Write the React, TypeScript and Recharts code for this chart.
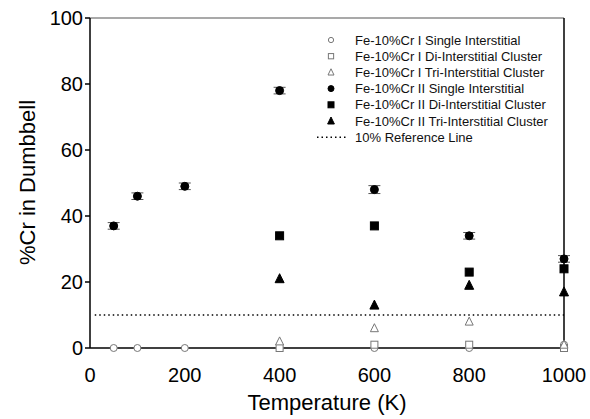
import React from 'react';
import { ScatterChart, Scatter, XAxis, YAxis, ErrorBar, ReferenceLine } from 'recharts';

const temps = [50, 100, 200, 400, 600, 800, 1000];
const clusterTemps = [400, 600, 800, 1000];

const iSingle = [0, 0, 0, 0, 0, 0, 1];
const iDi = [0, 1, 1, 0];
const iTri = [2, 6, 8, 1];
const iiSingle = [37, 46, 49, 78, 48, 34, 27];
const iiSingleErr = [1, 1, 1, 1, 1.2, 1, 1];
const iiDi = [34, 37, 23, 24];
const iiTri = [21, 13, 19, 17];
const refLine = [{ x: 10, y: 10 }, { x: 1000, y: 10 }];

const xTicks = [0, 200, 400, 600, 800, 1000];
const yTicks = [0, 20, 40, 60, 80, 100];

const mk = (xs: number[], ys: number[], errs?: number[]) =>
  xs.map((x, i) => ({ x, y: ys[i], err: errs ? errs[i] : 0 }));

const FONT = 'Liberation Sans, Arial, sans-serif';

type Kind = 'circle' | 'square' | 'triangle';

const drawMarker = (kind: Kind, filled: boolean, cx: number, cy: number, scale = 1) => {
  const fill = filled ? '#000' : '#fff';
  const stroke = filled ? '#000' : '#777';
  const sw = 1;
  if (kind === 'circle') {
    return <circle cx={cx} cy={cy} r={(filled ? 4 : 3.5) * scale} fill={fill} stroke={stroke} strokeWidth={sw} />;
  }
  if (kind === 'square') {
    const s = (filled ? 8 : 7) * scale;
    return <rect x={cx - s / 2} y={cy - s / 2} width={s} height={s} fill={fill} stroke={stroke} strokeWidth={sw} />;
  }
  const h = (filled ? 8 : 7) * scale;
  const w = (filled ? 9 : 8) * scale;
  return (
    <polygon
      points={`${cx},${cy - h / 2 - 1} ${cx - w / 2},${cy + h / 2} ${cx + w / 2},${cy + h / 2}`}
      fill={fill}
      stroke={stroke}
      strokeWidth={sw}
    />
  );
};

const shapeFn = (kind: Kind, filled: boolean) => (props: any) => {
  const { cx, cy } = props;
  if (cx == null || cy == null) return <g />;
  return drawMarker(kind, filled, cx, cy);
};

const legendItems: { label: string; kind: Kind | 'line'; filled: boolean }[] = [
  { label: 'Fe-10%Cr I Single Interstitial', kind: 'circle', filled: false },
  { label: 'Fe-10%Cr I Di-Interstitial Cluster', kind: 'square', filled: false },
  { label: 'Fe-10%Cr I Tri-Interstitial Cluster', kind: 'triangle', filled: false },
  { label: 'Fe-10%Cr II Single Interstitial', kind: 'circle', filled: true },
  { label: 'Fe-10%Cr II Di-Interstitial Cluster', kind: 'square', filled: true },
  { label: 'Fe-10%Cr II Tri-Interstitial Cluster', kind: 'triangle', filled: true },
  { label: '10% Reference Line', kind: 'line', filled: true },
];

const LegendOverlay = () => (
  <svg width={260} height={125} style={{ position: 'absolute', left: 300, top: 32, overflow: 'visible' }}>
    {legendItems.map((it, i) => {
      const y = 8 + i * 16.2;
      return (
        <g key={it.label}>
          {it.kind === 'line' ? (
            <line x1={17} x2={47} y1={y} y2={y} stroke="#000" strokeWidth={1.5} strokeDasharray="1.5 3" />
          ) : (
            drawMarker(it.kind as Kind, it.filled, 31, y, 0.75)
          )}
          <text x={55} y={y + 4.5} fontFamily={FONT} fontSize={13} fill="#111">
            {it.label}
          </text>
        </g>
      );
    })}
  </svg>
);

export default function App() {
  return (
    <div style={{ position: 'absolute', left: 0, top: 0, width: 590, height: 419, background: '#fff' }}>
      <ScatterChart width={590} height={419} margin={{ top: 18, right: 26, left: 0, bottom: 0 }}>
        <XAxis
          type="number"
          dataKey="x"
          domain={[0, 1000]}
          ticks={xTicks}
          tickLine={false}
          axisLine={{ stroke: '#000', strokeWidth: 1.5 }}
          height={71}
          tick={{ fontFamily: FONT, fontSize: 20, fill: '#000' }}
          tickMargin={14}
          label={{ value: 'Temperature (K)', position: 'insideBottom', offset: 9, style: { fontFamily: FONT, fontSize: 22, fill: '#000' } }}
        />
        <YAxis
          type="number"
          dataKey="y"
          domain={[0, 100]}
          ticks={yTicks}
          width={90}
          tickSize={5}
          tickMargin={2}
          tickLine={{ stroke: '#000', strokeWidth: 1.5 }}
          axisLine={{ stroke: '#000', strokeWidth: 1.5 }}
          tick={{ fontFamily: FONT, fontSize: 20, fill: '#000' }}
          label={{ value: '%Cr in Dumbbell', angle: -90, position: 'insideLeft', offset: 27, dy: 82, style: { fontFamily: FONT, fontSize: 22, fill: '#000' } }}
        />
        <ReferenceLine y={100} stroke="#555" strokeWidth={1.2} />
        <ReferenceLine x={1000} stroke="#000" strokeWidth={1.5} />
        <Scatter
          name="10% Reference Line"
          data={refLine}
          line={{ stroke: '#000', strokeWidth: 1.5, strokeDasharray: '1.5 3' }}
          shape={() => <g />}
          isAnimationActive={false}
        />
        <Scatter name="Fe-10%Cr I Single Interstitial" data={mk(temps, iSingle)} shape={shapeFn('circle', false)} isAnimationActive={false} />
        <Scatter name="Fe-10%Cr I Di-Interstitial Cluster" data={mk(clusterTemps, iDi)} shape={shapeFn('square', false)} isAnimationActive={false} />
        <Scatter name="Fe-10%Cr I Tri-Interstitial Cluster" data={mk(clusterTemps, iTri)} shape={shapeFn('triangle', false)} isAnimationActive={false} />
        <Scatter name="Fe-10%Cr II Single Interstitial" data={mk(temps, iiSingle, iiSingleErr)} shape={shapeFn('circle', true)} isAnimationActive={false}>
          <ErrorBar dataKey="err" direction="y" width={6} stroke="#555" strokeWidth={1} />
        </Scatter>
        <Scatter name="Fe-10%Cr II Di-Interstitial Cluster" data={mk(clusterTemps, iiDi)} shape={shapeFn('square', true)} isAnimationActive={false} />
        <Scatter name="Fe-10%Cr II Tri-Interstitial Cluster" data={mk(clusterTemps, iiTri)} shape={shapeFn('triangle', true)} isAnimationActive={false} />
      </ScatterChart>
      <LegendOverlay />
    </div>
  );
}
